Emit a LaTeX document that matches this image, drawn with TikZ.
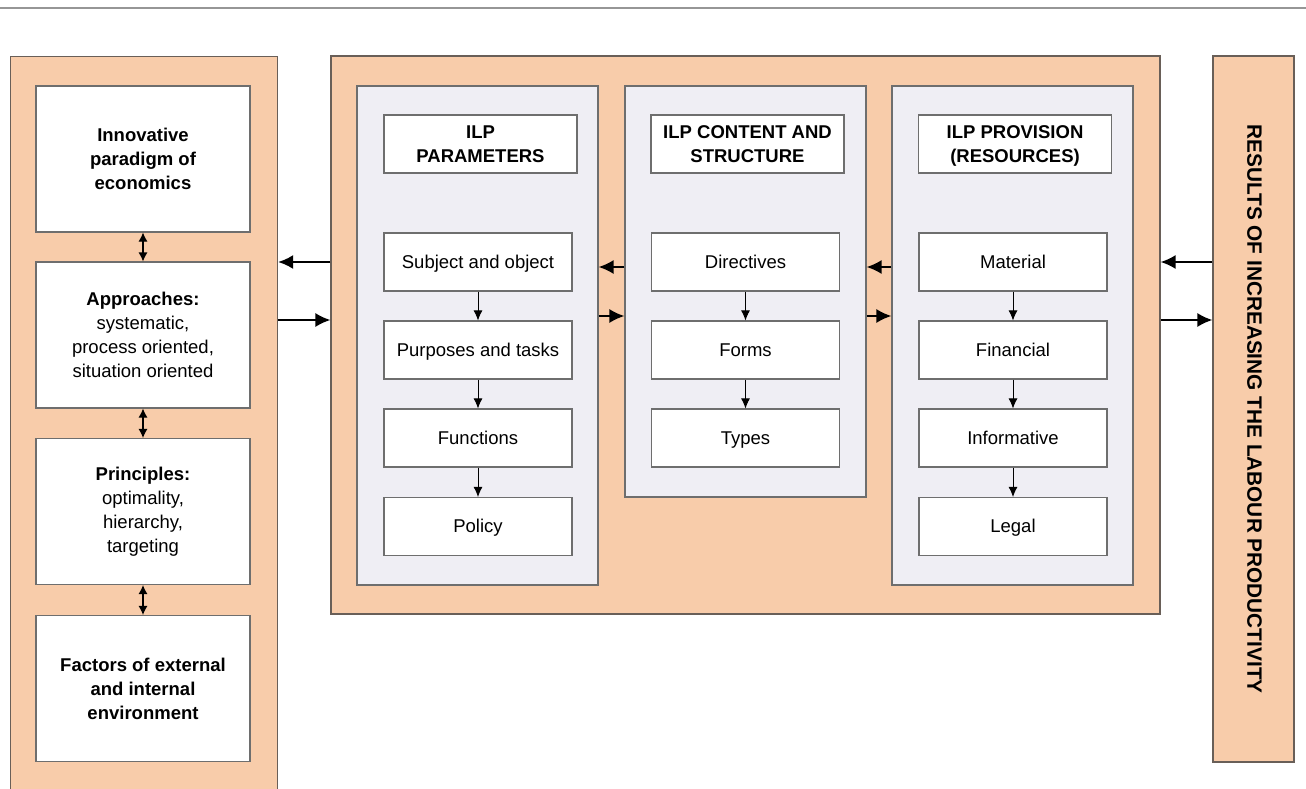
\documentclass[tikz,border=0pt]{standalone}
\usepackage{fontspec}
\setmainfont{Liberation Sans}
\usetikzlibrary{arrows.meta}

\definecolor{peach}{RGB}{248,204,170}
\definecolor{lav}{RGB}{239,238,244}
\definecolor{framegray}{RGB}{105,95,88}
\definecolor{boxgray}{RGB}{110,110,110}
\definecolor{rulegray}{RGB}{150,150,150}

\begin{document}
\begin{tikzpicture}[x=1pt,y=-1pt,
  txt/.style={font=\fontsize{18.5}{24}\selectfont},
  outerbox/.style={draw=framegray, fill=peach, line width=1.1pt, inner sep=0pt},
  panelbox/.style={draw=boxgray, fill=lav, line width=1.1pt, inner sep=0pt},
  card/.style={draw=boxgray, fill=white, line width=1.1pt, inner sep=0pt,
    align=center, txt},
  leftcard/.style={card, minimum width=214pt, minimum height=146pt},
  headcard/.style={card, minimum width=193pt, minimum height=58pt, font=\fontsize{18.5}{24}\selectfont\bfseries},
  itemcard/.style={card, minimum width=188pt, minimum height=58pt, text height=16pt, text depth=3.4pt},
  bigarrow/.style={line width=2pt, -{Latex[length=15pt,width=14pt]}},
  smallarrow/.style={line width=0.9pt, -{Latex[length=10pt,width=9pt]}},
  twoway/.style={line width=1.1pt, {Latex[length=9pt,width=9pt]}-{Latex[length=9pt,width=9pt]}}
]
\useasboundingbox (0,0) rectangle (1306,789);
\clip (0,0) rectangle (1306,789);

% rule along the top
\draw[rulegray, line width=1.5pt] (0,8) -- (1306,8);

% ---------- left column ----------
\node[outerbox, minimum width=267pt, minimum height=800pt, anchor=north west] (left) at (10,56) {};
\node[leftcard, font=\fontsize{18.5}{24}\selectfont\bfseries] (inn) at (143,159) {Innovative\\paradigm of\\economics};
\node[leftcard] (app) at (143,335) {\textbf{Approaches:}\\systematic,\\process oriented,\\situation oriented};
\node[leftcard] (pri) at (143,511.5) {\textbf{Principles:}\\optimality,\\hierarchy,\\targeting};
\node[leftcard, font=\fontsize{18.5}{24}\selectfont\bfseries] (fac) at (143,688.5) {Factors of external\\and internal\\environment};

\draw[twoway] (inn.south) -- (app.north);
\draw[twoway] (app.south) -- (pri.north);
\draw[twoway] (pri.south) -- (fac.north);

% ---------- middle block ----------
\node[outerbox, minimum width=829pt, minimum height=558pt] (mid) at (745.5,335) {};

\node[panelbox, minimum width=241pt, minimum height=499pt] (p1) at (477.5,335.5) {};
\node[panelbox, minimum width=241pt, minimum height=411pt] (p2) at (745.5,291.5) {};
\node[panelbox, minimum width=241pt, minimum height=499pt] (p3) at (1012.5,335.5) {};

% parameters
\node[headcard] (h1) at (480.5,144) {ILP\\PARAMETERS};
\node[itemcard] (sub) at (478,262) {Subject and object};
\node[itemcard] (pur) at (478,350) {Purposes and tasks};
\node[itemcard] (fun) at (478,438) {Functions};
\node[itemcard] (pol) at (478,526.5) {Policy};
\draw[smallarrow] (sub.south) -- (pur.north);
\draw[smallarrow] (pur.south) -- (fun.north);
\draw[smallarrow] (fun.south) -- (pol.north);

% content and structure
\node[headcard] (h2) at (747.5,144) {ILP CONTENT AND\\STRUCTURE};
\node[itemcard] (dir) at (745.5,262) {Directives};
\node[itemcard] (frm) at (745.5,350) {Forms};
\node[itemcard] (typ) at (745.5,438) {Types};
\draw[smallarrow] (dir.south) -- (frm.north);
\draw[smallarrow] (frm.south) -- (typ.north);

% provision (parenthesis depth ignored so the lines sit like the other headers)
\node[headcard] (h3) at (1015,144) {ILP PROVISION\\\raisebox{0pt}[\height][0pt]{(RESOURCES)}};
\node[itemcard] (mat) at (1013,262) {Material};
\node[itemcard] (fin) at (1013,350) {Financial};
\node[itemcard] (inf) at (1013,438) {Informative};
\node[itemcard] (leg) at (1013,526.5) {Legal};
\draw[smallarrow] (mat.south) -- (fin.north);
\draw[smallarrow] (fin.south) -- (inf.north);
\draw[smallarrow] (inf.south) -- (leg.north);

% ---------- right column ----------
\node[outerbox, minimum width=81pt, minimum height=706pt] (res) at (1253.5,409) {};
\node[rotate=-90, font=\fontsize{20.8}{24}\selectfont\bfseries] (restxt) at ([xshift=1pt]res.center) {RESULTS OF INCREASING THE LABOUR PRODUCTIVITY};

% ---------- links between blocks ----------
\draw[bigarrow] (mid.west |- 0,262) -- (left.east |- 0,262);
\draw[bigarrow] (left.east |- 0,320) -- (mid.west |- 0,320);

\draw[bigarrow] (p2.west |- 0,267) -- (p1.east |- 0,267);
\draw[bigarrow] (p1.east |- 0,316) -- (p2.west |- 0,316);
\draw[bigarrow] (p3.west |- 0,267) -- (p2.east |- 0,267);
\draw[bigarrow] (p2.east |- 0,316) -- (p3.west |- 0,316);

\draw[bigarrow] (res.west |- 0,262) -- (mid.east |- 0,262);
\draw[bigarrow] (mid.east |- 0,320) -- (res.west |- 0,320);
\end{tikzpicture}
\end{document}
